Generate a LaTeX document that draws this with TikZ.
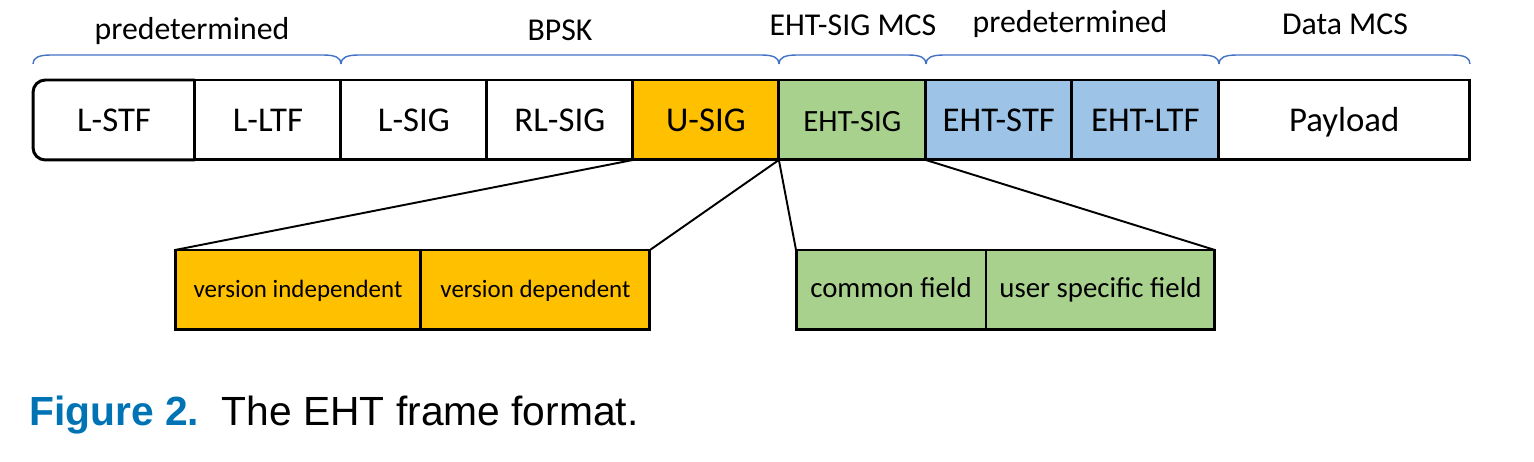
\documentclass[tikz,border=0pt]{standalone}
\usepackage{fontspec}
\setmainfont{Carlito}
\newfontfamily\capfont{Liberation Sans}
\usetikzlibrary{positioning}
\definecolor{usigorange}{RGB}{255,192,0}
\definecolor{siggreen}{RGB}{169,209,142}
\definecolor{ltfblue}{RGB}{157,195,230}
\definecolor{bracecol}{RGB}{68,114,196}
\definecolor{capblue}{RGB}{0,115,180}

\begin{document}
\begin{tikzpicture}[x=0.02cm, y=-0.02cm,
	field/.style={draw, line width=1.7pt, minimum height=1.6cm, inner sep=0pt, outer sep=0pt, text height=14pt, text depth=0.4pt, font=\fontsize{19.8}{22}\selectfont},
	subfield/.style={draw, line width=1.7pt, minimum height=1.6cm, inner sep=0pt, outer sep=0pt, text height=10pt, text depth=1pt},
	zoomline/.style={line width=1.1pt},
	brace/.style={bracecol, line width=0.8pt},
	group/.style={anchor=base, inner sep=0pt, font=\fontsize{18.1}{21}\selectfont}]
	\useasboundingbox (0,0) rectangle (1534,462);

	% frame fields
	\node[field, draw=none, minimum width=3.24cm] (lstf) at (114,120) {L-STF};
	\node[field, minimum width=2.92cm, right=0pt of lstf] (lltf) {L-LTF};
	\node[field, minimum width=2.92cm, right=0pt of lltf] (lsig) {L-SIG};
	\node[field, minimum width=2.92cm, right=0pt of lsig] (rlsig) {RL-SIG};
	\node[field, fill=usigorange, minimum width=2.92cm, right=0pt of rlsig] (usig) {U-SIG};
	\node[field, fill=siggreen, minimum width=2.94cm, right=0pt of usig, font=\fontsize{17.6}{20}\selectfont] (ehtsig) {EHT-SIG};
	\node[field, fill=ltfblue, minimum width=2.92cm, right=0pt of ehtsig] (ehtstf) {EHT-STF};
	\node[field, fill=ltfblue, minimum width=2.94cm, right=0pt of ehtstf] (ehtltf) {EHT-LTF};
	\node[field, minimum width=5.02cm, right=0pt of ehtltf] (payload) {Payload};
	\draw[line width=1.7pt, rounded corners=7pt] (lstf.north east) -- (lstf.north west) -- (lstf.south west) -- (lstf.south east);

	% braces and their labels
	\foreach \a/\b in {33/341, 341/779, 779/926, 926/1219, 1219/1470}
		\draw[brace] (\a,64) .. controls (\a,58) and (\a+5,55) .. (\a+18,55) -- (\b-18,55) .. controls (\b-5,55) and (\b,58) .. (\b,64);
	\node[group] (pred1) at (192,40) {predetermined};
	\node[group] (bpsk) at (560,41) {BPSK};
	\node[group] (sigmcs) at (853,36) {EHT-SIG MCS};
	\node[group] (pred2) at (1070,33) {predetermined};
	\node[group] (datamcs) at (1345,35) {Data MCS};

	% sub fields
	\node[subfield, fill=usigorange, minimum width=4.92cm, font=\fontsize{14.2}{17}\selectfont] (vind) at (298,290) {version independent};
	\node[subfield, fill=usigorange, minimum width=4.58cm, right=0pt of vind, font=\fontsize{14.2}{17}\selectfont] (vdep) {version dependent};
	\node[subfield, fill=siggreen, minimum width=3.8cm, font=\fontsize{16.4}{19}\selectfont] (common) at (891,290) {common field};
	\node[subfield, fill=siggreen, minimum width=4.58cm, right=0pt of common, font=\fontsize{16.4}{19}\selectfont] (user) {user specific field};

	\draw[zoomline] (usig.south west) -- (vind.north west);
	\draw[zoomline] (usig.south east) -- (vdep.north east);
	\draw[zoomline] (ehtsig.south west) -- (common.north west);
	\draw[zoomline] (ehtsig.south east) -- (user.north east);

	% caption
	\node[anchor=base west, inner sep=0pt, font=\capfont\fontsize{23.2}{26}\selectfont] (caption) at (29,425) {{\color{capblue}\bfseries Figure 2.}\hspace{0.45cm}The EHT frame format.};
\end{tikzpicture}
\end{document}
